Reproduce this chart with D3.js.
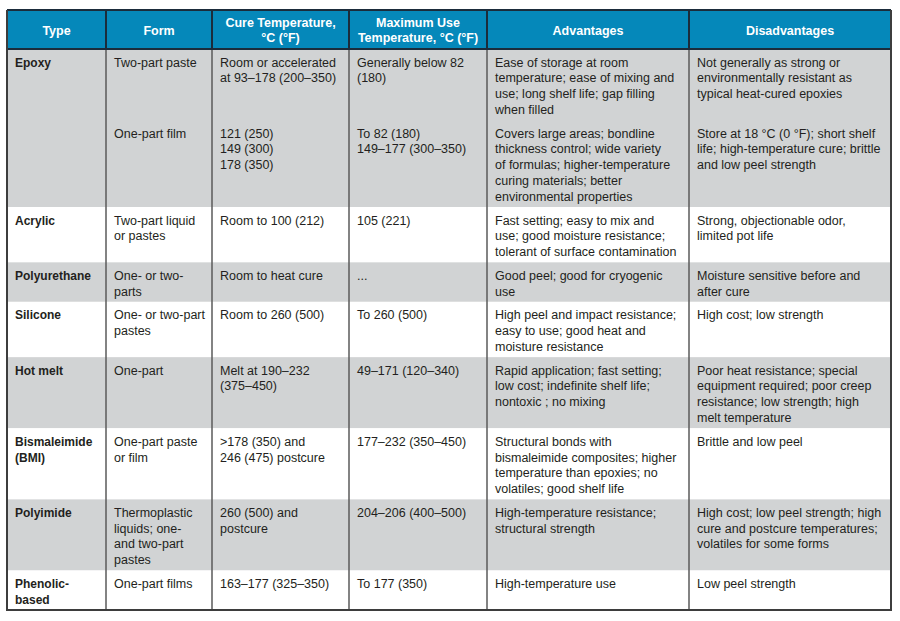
<!DOCTYPE html>
<html>
<head>
<meta charset="utf-8">
<script src="https://cdn.jsdelivr.net/npm/d3@7"></script>
<style>
  html, body { margin: 0; padding: 0; background: #ffffff; }
  svg { display: block; }
</style>
</head>
<body>
<div id="chart"></div>
<script>
// ---------------- DATA ----------------
const headers = ["Type", "Form", "Cure Temperature,\n°C (°F)", "Maximum Use\nTemperature, °C (°F)", "Advantages", "Disadvantages"];

const types = ["Epoxy", "Acrylic", "Polyurethane", "Silicone", "Hot melt", "Bismaleimide\n(BMI)", "Polyimide", "Phenolic-\nbased"];

const forms = [
  ["Two-part paste", "One-part film"],
  ["Two-part liquid\nor pastes"],
  ["One- or two-\nparts"],
  ["One- or two-part\npastes"],
  ["One-part"],
  ["One-part paste\nor film"],
  ["Thermoplastic\nliquids; one-\nand two-part\npastes"],
  ["One-part films"]
];

const cureTemps = [
  ["Room or accelerated\nat 93–178 (200–350)", "121 (250)\n149 (300)\n178 (350)"],
  ["Room to 100 (212)"],
  ["Room to heat cure"],
  ["Room to 260 (500)"],
  ["Melt at 190–232\n(375–450)"],
  [">178 (350) and\n246 (475) postcure"],
  ["260 (500) and\npostcure"],
  ["163–177 (325–350)"]
];

const maxUseTemps = [
  ["Generally below 82\n(180)", "To 82 (180)\n149–177 (300–350)"],
  ["105 (221)"],
  ["..."],
  ["To 260 (500)"],
  ["49–171 (120–340)"],
  ["177–232 (350–450)"],
  ["204–206 (400–500)"],
  ["To 177 (350)"]
];

const advantages = [
  ["Ease of storage at room\ntemperature; ease of mixing and\nuse; long shelf life; gap filling\nwhen filled",
   "Covers large areas; bondline\nthickness control; wide variety\nof formulas; higher-temperature\ncuring materials; better\nenvironmental properties"],
  ["Fast setting; easy to mix and\nuse; good moisture resistance;\ntolerant of surface contamination"],
  ["Good peel; good for cryogenic\nuse"],
  ["High peel and impact resistance;\neasy to use; good heat and\nmoisture resistance"],
  ["Rapid application; fast setting;\nlow cost; indefinite shelf life;\nnontoxic ; no mixing"],
  ["Structural bonds with\nbismaleimide composites; higher\ntemperature than epoxies; no\nvolatiles; good shelf life"],
  ["High-temperature resistance;\nstructural strength"],
  ["High-temperature use"]
];

const disadvantages = [
  ["Not generally as strong or\nenvironmentally resistant as\ntypical heat-cured epoxies",
   "Store at 18 °C (0 °F); short shelf\nlife; high-temperature cure; brittle\nand low peel strength"],
  ["Strong, objectionable odor,\nlimited pot life"],
  ["Moisture sensitive before and\nafter cure"],
  ["High cost; low strength"],
  ["Poor heat resistance; special\nequipment required; poor creep\nresistance; low strength; high\nmelt temperature"],
  ["Brittle and low peel"],
  ["High cost; low peel strength; high\ncure and postcure temperatures;\nvolatiles for some forms"],
  ["Low peel strength"]
];

// ---------------- LAYOUT ----------------
const W = 900, H = 621;
const colEdges = [7, 106, 212, 349, 487, 689, 891];
const tableTop = 10, headerBottom = 49, tableBottom = 610;
const padUnits = 0.5;        // blank space under each sub-row, in line units
const baselineOffset = 17.5; // from sub-row top to first baseline
const lineGap = 15.75;

const colors = {
  header: "#0588ba",
  headerLine: "#1b2c3b",
  grey: "#d1d3d4",
  white: "#ffffff",
  border: "#3d3d3d",
  inner: "#5a5a5a",
  text: "#231f20"
};

// build row structure
const bodyCols = [forms, cureTemps, maxUseTemps, advantages, disadvantages];
const rows = types.map((t, i) => {
  const nSub = forms[i].length;
  const subs = d3.range(nSub).map(s => {
    const lines = d3.max(bodyCols, c => (c[i][s] || "").split("\n").length);
    return { lines: Math.max(lines, t.split("\n").length) };
  });
  return { type: t, index: i, subs };
});

// cumulative units
let acc = 0;
rows.forEach(r => {
  r.start = acc;
  r.subs.forEach(s => { s.start = acc; acc += s.lines + padUnits; s.end = acc; });
  r.end = acc;
});
const totalUnits = acc;

const y = d3.scaleLinear().domain([0, totalUnits]).range([headerBottom, tableBottom]);
const x = d3.scaleOrdinal().domain(d3.range(6)).range(colEdges.slice(0, 6));
const colW = i => colEdges[i + 1] - colEdges[i];

const svg = d3.select("#chart").append("svg")
  .attr("width", W).attr("height", H)
  .attr("viewBox", `0 0 ${W} ${H}`);

// header background
svg.append("rect")
  .attr("x", colEdges[0]).attr("y", tableTop)
  .attr("width", colEdges[6] - colEdges[0]).attr("height", headerBottom - tableTop)
  .attr("fill", colors.header);

// row backgrounds
svg.selectAll("rect.rowbg").data(rows).join("rect")
  .attr("class", "rowbg")
  .attr("x", colEdges[0])
  .attr("y", d => y(d.start))
  .attr("width", colEdges[6] - colEdges[0])
  .attr("height", d => y(d.end) - y(d.start))
  .attr("fill", d => d.index % 2 === 0 ? colors.grey : colors.white);

// text helper
function multiline(sel, str, xPos, yPos, opts) {
  const t = sel.append("text")
    .attr("x", xPos).attr("y", yPos)
    .attr("font-family", "'Liberation Sans', Arial, sans-serif")
    .attr("font-size", opts.size)
    .attr("font-weight", opts.weight || "normal")
    .attr("fill", opts.fill)
    .attr("text-anchor", opts.anchor || "start");
  str.split("\n").forEach((ln, k) => {
    t.append("tspan").attr("x", xPos).attr("dy", k === 0 ? 0 : lineGap).text(ln);
  });
  return t;
}

// header text
const hg = svg.append("g");
headers.forEach((h, i) => {
  const n = h.split("\n").length;
  const cy = n === 1 ? 34.5 : 26.5;
  multiline(hg, h, x(i) + colW(i) / 2, cy, { size: 12.5, weight: "bold", fill: "#ffffff", anchor: "middle" });
});

// body text
const bg = svg.append("g");
rows.forEach(r => {
  multiline(bg, r.type, x(0) + 8, y(r.start) + baselineOffset, { size: 12, weight: "bold", fill: colors.text });
  bodyCols.forEach((col, ci) => {
    col[r.index].forEach((cell, s) => {
      multiline(bg, cell, x(ci + 1) + 8, y(r.subs[s].start) + baselineOffset, { size: 12.5, fill: colors.text });
    });
  });
});

// vertical lines: header part (dark navy) and body part (grey)
const inner = colEdges.slice(1, 6);
svg.selectAll("line.vh").data(inner).join("line")
  .attr("x1", d => d).attr("x2", d => d)
  .attr("y1", tableTop).attr("y2", headerBottom)
  .attr("stroke", colors.headerLine).attr("stroke-width", 2);
svg.selectAll("line.vb").data(inner).join("line")
  .attr("x1", d => d).attr("x2", d => d)
  .attr("y1", headerBottom).attr("y2", tableBottom)
  .attr("stroke", colors.inner).attr("stroke-width", 1.5);

// header bottom line
svg.append("line")
  .attr("x1", colEdges[0]).attr("x2", colEdges[6])
  .attr("y1", headerBottom).attr("y2", headerBottom)
  .attr("stroke", colors.headerLine).attr("stroke-width", 2);

// header top line
svg.append("line")
  .attr("x1", colEdges[0]).attr("x2", colEdges[6])
  .attr("y1", tableTop).attr("y2", tableTop)
  .attr("stroke", colors.headerLine).attr("stroke-width", 2);

// outer border body
svg.append("path")
  .attr("d", `M${colEdges[0]},${tableTop} V${tableBottom} H${colEdges[6]} V${tableTop}`)
  .attr("fill", "none")
  .attr("stroke", colors.border).attr("stroke-width", 2);
</script>
</body>
</html>
